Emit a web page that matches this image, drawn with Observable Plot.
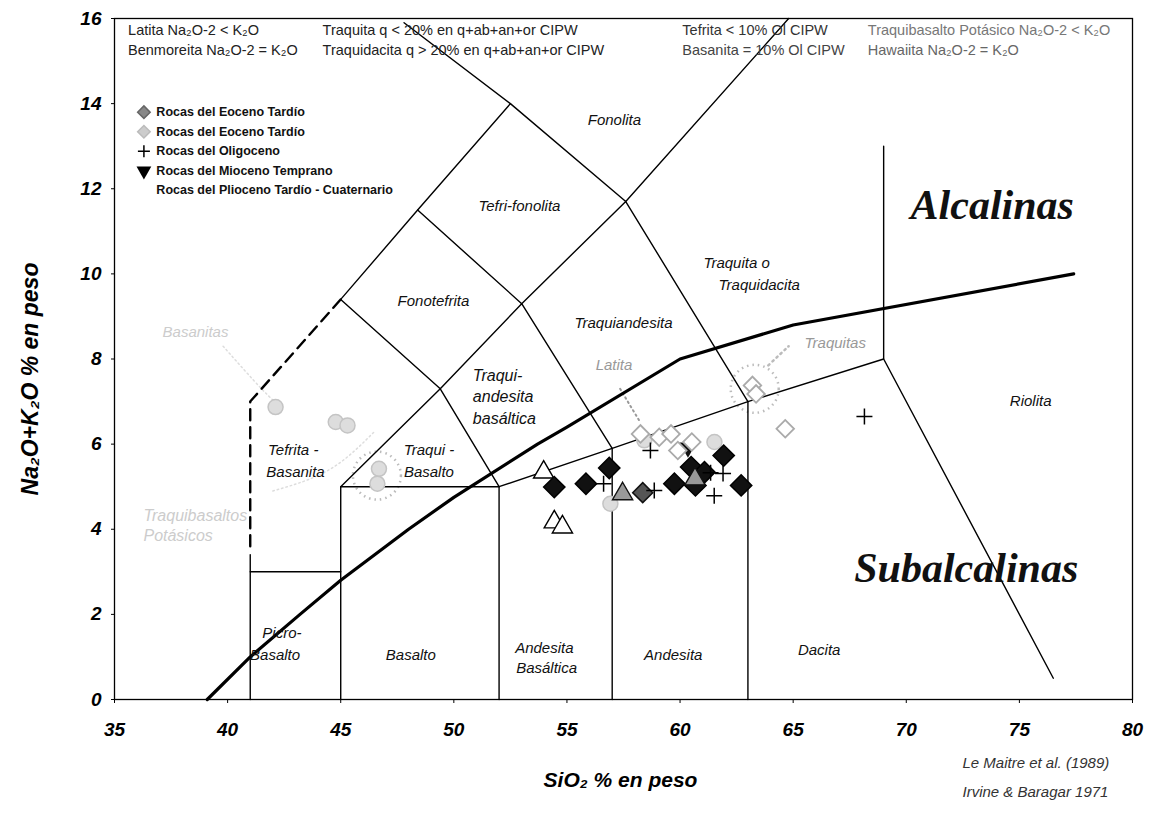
<!DOCTYPE html>
<html><head><meta charset="utf-8">
<script src="https://cdn.jsdelivr.net/npm/d3@7"></script>
<script src="https://cdn.jsdelivr.net/npm/@observablehq/plot@0.6"></script>
<style>body{margin:0;background:#fff}</style>
</head><body><div id="chart"></div>
<script>
// ---------- axis ticks ----------
const xTicks = [35, 40, 45, 50, 55, 60, 65, 70, 75, 80];
const yTicks = [0, 2, 4, 6, 8, 10, 12, 14, 16];

// ---------- samples ----------
const blackDiamondSi  = [54.44, 55.84, 56.87, 59.75, 60.49, 61.08, 60.68, 61.93, 62.70];
const blackDiamondAlk = [4.99, 5.07, 5.44, 5.07, 5.46, 5.34, 5.03, 5.73, 5.03];
const darkDiamondSi  = [58.35];
const darkDiamondAlk = [4.86];
const openDiamondSi  = [58.25, 59.08, 59.60, 59.90, 60.52, 63.20, 63.36, 64.65];
const openDiamondAlk = [6.24, 6.16, 6.24, 5.85, 6.05, 7.38, 7.18, 6.36];
const plusSi  = [56.62, 58.86, 58.69, 61.51, 61.35, 61.90, 68.15];
const plusAlk = [5.07, 4.91, 5.85, 4.79, 5.33, 5.31, 6.65];
const grayTriangleSi  = [57.46, 60.66];
const grayTriangleAlk = [4.83, 5.18];
const openTriangleSi  = [53.97, 54.44, 54.80];
const openTriangleAlk = [5.34, 4.17, 4.05];
const downTriangleSi  = [60.35];
const downTriangleAlk = [5.92];
const circleSi  = [58.42, 61.52, 56.92, 44.78, 45.30, 46.69, 46.62, 42.12];
const circleAlk = [6.09, 6.05, 4.60, 6.52, 6.44, 5.42, 5.07, 6.87];

// ---------- TAS field boundaries (Le Maitre et al. 1989) ----------
const tasLines = [
  [[41, 0], [41, 3.4]],
  [[41, 3], [45, 3]],
  [[45, 0], [45, 5], [52, 5], [57, 5.9], [63, 7], [69, 8]],
  [[52, 0], [52, 5]],
  [[57, 0], [57, 5.9]],
  [[63, 0], [63, 7]],
  [[69, 13], [69, 8], [76.5, 0.5]],
  [[45, 5], [49.4, 7.3], [52, 5]],
  [[45, 9.4], [49.4, 7.3], [53, 9.3], [57, 5.9]],
  [[48.4, 11.5], [53, 9.3], [57.6, 11.7], [63, 7]],
  [[45, 9.4], [48.4, 11.5], [52.5, 14], [57.6, 11.7], [64.8, 16]],
  [[52.5, 14], [47.8, 15.9]]
];
const dashedLine = [[41, 3.6], [41, 7], [45, 9.4]];
// Irvine & Baragar (1971) alkaline / subalkaline divide
const ibSi  = [39.1, 41, 43.2, 45, 48, 50, 53.7, 55, 60, 65, 77.4];
const ibAlk = [0, 1.0, 2.0, 2.8, 4.0, 4.75, 6.0, 6.4, 8.0, 8.8, 10.0];

// ---------- field names ----------
const fieldNames = ["Fonolita", "Tefri-fonolita", "Traquita o", "Traquidacita", "Fonotefrita",
  "Traquiandesita", "Riolita", "Tefrita -", "Basanita", "Traqui -", "Basalto",
  "Picro-", "Basalto", "Basalto", "Andesita", "Basáltica", "Andesita", "Dacita"];
const fieldSi  = [57.1, 52.9, 62.5, 63.5, 49.1, 57.5, 75.5, 42.9, 43.0,
  48.9, 48.9, 42.4, 42.1, 48.1, 54.0, 54.1, 59.7, 66.15];
const fieldAlk = [13.6, 11.6, 10.25, 9.73, 9.35, 8.85, 7.0, 5.85, 5.35,
  5.85, 5.35, 1.55, 1.03, 1.03, 1.2, 0.73, 1.03, 1.15];
const stackedNames = ["Traqui-", "andesita", "basáltica"];
const stackedSi  = [50.84, 50.84, 50.84];
const stackedAlk = [7.61, 7.10, 6.60];

const bigNames = ["Alcalinas", "Subalcalinas"];
const bigSi  = [73.8, 72.65];
const bigAlk = [11.6, 3.08];

// ---------- annotations ----------
const noteNames = ["Latita", "Traquitas", "Basanitas"];
const noteSi  = [57.08, 66.86, 38.58];
const noteAlk = [7.85, 8.36, 8.62];
const noteColor = ["#999", "#999", "#ccc"];
const faintNames = ["Traquibasaltos", "Potásicos"];
const faintSi  = [36.28, 36.28];
const faintAlk = [4.32, 3.85];

// ---------- legends ----------
const topNotes = ["Latita Na₂O-2 < K₂O", "Benmoreita Na₂O-2 = K₂O",
  "Traquita q < 20% en q+ab+an+or CIPW", "Traquidacita q > 20% en q+ab+an+or CIPW",
  "Tefrita < 10% Ol CIPW", "Basanita = 10% Ol CIPW",
  "Traquibasalto Potásico Na₂O-2 < K₂O", "Hawaiita Na₂O-2 = K₂O"];
const topNoteSi = [35.6, 35.6, 44.2, 44.2, 60.1, 60.1, 68.3, 68.3];
const topNoteAlk = [15.72, 15.25, 15.72, 15.25, 15.72, 15.25, 15.72, 15.25];
const topNoteColor = ["#222", "#222", "#222", "#222", "#333", "#444", "#777", "#666"];

const legendLabels = ["Rocas del Eoceno Tardío", "Rocas del Eoceno Tardío", "Rocas del Oligoceno",
  "Rocas del Mioceno Temprano", "Rocas del Plioceno Tardío - Cuaternario"];

const legendRows = legendLabels.map((t, i) => ({t, i, y: 13.8 - i * 0.46}));

const pts = (a, b) => a.map((x, i) => ({x, y: b[i]}));
const lineRows = tasLines.flatMap((seg, k) => seg.map(([x, y]) => ({x, y, k})));

const plusSymbol = {
  draw(ctx, size) {
    const r = Math.sqrt(size / Math.PI);
    ctx.moveTo(-r, 0); ctx.lineTo(r, 0);
    ctx.moveTo(0, -r); ctx.lineTo(0, r);
  }
};

const regionFont = {fontFamily: "Liberation Sans, Arial", fontStyle: "italic", fontSize: 15, fill: "#111"};

const chart = Plot.plot({
  width: 1149, height: 816,
  marginLeft: 114, marginRight: 17, marginTop: 18, marginBottom: 117,
  style: {fontFamily: "Liberation Sans, Arial", background: "#fff", color: "#000"},
  x: {domain: [35, 80]},
  y: {domain: [0, 16]},
  marks: [
    Plot.axisX({ticks: xTicks, tickSize: 4, tickPadding: 19, label: null, fontSize: 19, fontWeight: "bold", fontStyle: "italic"}),
    Plot.axisY({ticks: yTicks, tickSize: 3, tickPadding: 10, label: null, fontSize: 19, fontWeight: "bold", fontStyle: "italic"}),
    Plot.frame({stroke: "#000", strokeWidth: 1.3}),
    // annotation dotted rings / leaders
    Plot.dot([{x: 63.3, y: 7.3}, {x: 46.6, y: 5.26}], {x: "x", y: "y", r: 24, stroke: "#bbb", strokeWidth: 2.5, strokeDasharray: "1.5,4", fill: "none"}),
    Plot.line([{x: 57.35, y: 7.3}, {x: 58.2, y: 6.55}], {x: "x", y: "y", stroke: "#999", strokeWidth: 2, strokeDasharray: "1.5,3.5"}),
    Plot.line([{x: 63.9, y: 7.85}, {x: 64.4, y: 8.1}, {x: 64.8, y: 8.3}], {x: "x", y: "y", stroke: "#bbb", strokeWidth: 2.5, strokeDasharray: "1.5,4", curve: "natural"}),
    Plot.line([{x: 39.8, y: 8.3}, {x: 41.5, y: 7.3}, {x: 42.3, y: 6.9}], {x: "x", y: "y", stroke: "#ddd", strokeWidth: 1.5, strokeDasharray: "1.5,3", curve: "natural"}),
    Plot.line([{x: 42.0, y: 4.9}, {x: 44.5, y: 5.4}, {x: 46.5, y: 6.3}], {x: "x", y: "y", stroke: "#ddd", strokeWidth: 1.5, strokeDasharray: "1.5,3", curve: "natural"}),
    // field boundaries
    Plot.line(lineRows, {x: "x", y: "y", z: "k", stroke: "#000", strokeWidth: 1.4}),
    Plot.line(dashedLine.map(([x, y]) => ({x, y})), {x: "x", y: "y", stroke: "#000", strokeWidth: 2.4, strokeDasharray: "11,7"}),
    Plot.line(pts(ibSi, ibAlk), {x: "x", y: "y", stroke: "#000", strokeWidth: 3.2, curve: "linear"}),
    // field names
    Plot.text(fieldNames, {x: (d, i) => fieldSi[i], y: (d, i) => fieldAlk[i], text: d => d, ...regionFont}),
    Plot.text(stackedNames, {x: (d, i) => stackedSi[i], y: (d, i) => stackedAlk[i], text: d => d, textAnchor: "start", ...regionFont, fontSize: 16}),
    Plot.text(bigNames, {x: (d, i) => bigSi[i], y: (d, i) => bigAlk[i], text: d => d, fontFamily: "Liberation Serif, Times New Roman", fontStyle: "italic", fontWeight: "bold", fontSize: 42, fill: "#111"}),
    Plot.text(noteNames, {x: (d, i) => noteSi[i], y: (d, i) => noteAlk[i], text: d => d, fill: (d, i) => noteColor[i], fontStyle: "italic", fontSize: 15}),
    Plot.text(faintNames, {x: (d, i) => faintSi[i], y: (d, i) => faintAlk[i], text: d => d, textAnchor: "start", fill: "#ccc", fontStyle: "italic", fontSize: 16}),
    Plot.text(topNotes, {x: (d, i) => topNoteSi[i], y: (d, i) => topNoteAlk[i], text: d => d, textAnchor: "start", fontSize: 14.5, fill: (d, i) => topNoteColor[i]}),
    // samples
    Plot.dot(pts(circleSi, circleAlk), {x: "x", y: "y", r: 7.5, fill: "#ddd", stroke: "#c4c4c4", strokeWidth: 1.5}),
    Plot.dot(pts(downTriangleSi, downTriangleAlk), {x: "x", y: "y", symbol: "triangle", rotate: 180, r: 6.5, fill: "#111"}),
    Plot.dot(pts(openDiamondSi, openDiamondAlk), {x: "x", y: "y", symbol: "square", rotate: 45, r: 7, fill: "#fff", stroke: "#aaa", strokeWidth: 1.8}),
    Plot.dot(pts(openTriangleSi, openTriangleAlk), {x: "x", y: "y", symbol: "triangle", r: 7.5, fill: "#fff", stroke: "#000", strokeWidth: 1.4}),
    Plot.dot(pts(blackDiamondSi, blackDiamondAlk), {x: "x", y: "y", symbol: "square", rotate: 45, r: 8.5, fill: "#111", stroke: "#000"}),
    Plot.dot(pts(darkDiamondSi, darkDiamondAlk), {x: "x", y: "y", symbol: "square", rotate: 45, r: 8, fill: "#555", stroke: "#111", strokeWidth: 1.5}),
    Plot.dot(pts(grayTriangleSi, grayTriangleAlk), {x: "x", y: "y", symbol: "triangle", r: 7.5, fill: "#999", stroke: "#111", strokeWidth: 1.4}),
    Plot.dot(pts(plusSi, plusAlk), {x: "x", y: "y", symbol: plusSymbol, r: 8, stroke: "#000", strokeWidth: 1.5, fill: "none"}),
    // legend inside the plot
    Plot.dot(legendRows.filter(d => d.i === 0), {x: 36.3, y: "y", symbol: "square", rotate: 45, r: 5, fill: "#888", stroke: "#666"}),
    Plot.dot(legendRows.filter(d => d.i === 1), {x: 36.3, y: "y", symbol: "square", rotate: 45, r: 5, fill: "#ccc", stroke: "#bbb"}),
    Plot.dot(legendRows.filter(d => d.i === 2), {x: 36.3, y: "y", symbol: plusSymbol, r: 6, stroke: "#000", strokeWidth: 1.5}),
    Plot.dot(legendRows.filter(d => d.i === 3), {x: 36.3, y: "y", symbol: "triangle", rotate: 180, r: 5.5, fill: "#000"}),
    Plot.text(legendRows, {x: 36.85, y: "y", text: "t", textAnchor: "start", fontSize: 12.5, fontWeight: "bold", fill: "#111"}),
    // axis titles and caption
    Plot.text(["SiO₂ % en peso"], {frameAnchor: "bottom", dy: 87, dx: -3, fontSize: 21, fontWeight: "bold", fontStyle: "italic"}),
    Plot.text(["Na₂O+K₂O % en peso"], {frameAnchor: "left", textAnchor: "middle", rotate: -90, dx: -84, dy: 20, fontSize: 23, fontWeight: "bold", fontStyle: "italic"}),
    Plot.text(["Le Maitre et al. (1989)"], {frameAnchor: "bottom-right", textAnchor: "start", dx: -170, dy: 68, fontSize: 15, fontStyle: "italic", fill: "#333"}),
    Plot.text(["Irvine & Baragar 1971"], {frameAnchor: "bottom-right", textAnchor: "start", dx: -170, dy: 97, fontSize: 15, fontStyle: "italic", fill: "#333"})
  ]
});
document.getElementById("chart").append(chart);
</script>
</body></html>
